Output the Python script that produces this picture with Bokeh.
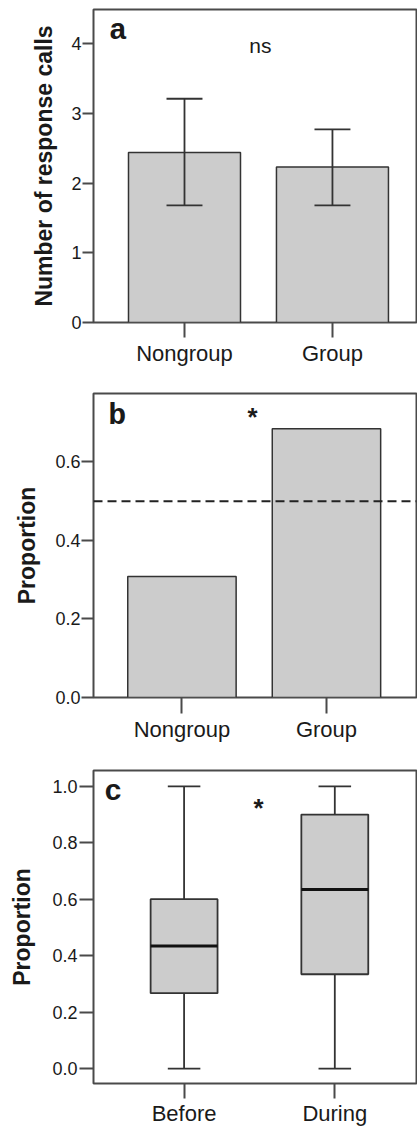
import numpy as np
from bokeh.plotting import figure
from bokeh.layouts import column
from bokeh.models import FixedTicker, PrintfTickFormatter, Label, Span, Range1d
from bokeh.embed import file_html
from bokeh.resources import INLINE

# ---- data ----
groups_ab = ["Nongroup", "Group"]
calls_mean = [2.44, 2.23]
calls_lo = [1.68, 1.68]
calls_hi = [3.21, 2.77]

prop_b = [0.308, 0.685]
chance_level = 0.5

groups_c = ["Before", "During"]
c_low = [0.0, 0.0]
c_q1 = [0.267, 0.334]
c_med = [0.434, 0.634]
c_q3 = [0.600, 0.900]
c_high = [1.0, 1.0]

ticks_a = [0, 1, 2, 3, 4]
ticks_b = [0.0, 0.2, 0.4, 0.6]
ticks_c = [0.0, 0.2, 0.4, 0.6, 0.8, 1.0]

SANS = "Liberation Sans"
MONO = "Liberation Mono"
FRAME = "#4a4a4a"
EDGE = "#333333"
FILL = "#cccccc"
W = 417


def base(height, xr, yr, bl, bt, bb):
    p = figure(width=W, height=height, x_range=Range1d(*xr), y_range=Range1d(*yr),
               output_backend="svg", toolbar_location=None,
               min_border_left=bl, min_border_right=1, min_border_top=bt,
               min_border_bottom=bb)
    p.xgrid.visible = False
    p.ygrid.visible = False
    p.outline_line_color = FRAME
    p.outline_line_width = 2
    p.background_fill_color = "white"
    p.border_fill_color = "white"
    for ax in (p.xaxis[0], p.yaxis[0]):
        ax.axis_line_color = None
        ax.minor_tick_line_color = None
        ax.major_tick_in = 0
        ax.major_tick_line_color = FRAME
        ax.major_tick_line_width = 2
        ax.major_label_text_font = SANS
        ax.major_label_text_color = "#1a1a1a"
    p.xaxis.major_label_text_font_size = "22px"
    p.yaxis.major_label_text_font_size = "18px"
    p.yaxis.axis_label_text_font = SANS
    p.yaxis.axis_label_text_font_style = "bold"
    p.yaxis.axis_label_text_font_size = "23px"
    p.yaxis.axis_label_text_color = "#1a1a1a"
    return p


def letter(p, txt, x, y, size="30px", align="left"):
    p.add_layout(Label(x=x, y=y, text=txt, text_font=MONO, text_font_style="bold",
                       text_font_size=size, text_color="#1a1a1a",
                       text_baseline="alphabetic", text_align=align))


# ---- panel a ----
xa = np.arange(1, len(groups_ab) + 1)
pa = base(375, (0.385, 2.568), (0, 4.49), 93, 9, 53)
pa.vbar(x=xa, top=calls_mean, bottom=0, width=0.757, fill_color=FILL,
        line_color=EDGE, line_width=1.5)
pa.segment(x0=xa, y0=calls_lo, x1=xa, y1=calls_hi, line_color=EDGE, line_width=1.8)
cw = 0.243 / 2
pa.segment(x0=xa - cw, y0=calls_lo, x1=xa + cw, y1=calls_lo, line_color=EDGE, line_width=1.8)
pa.segment(x0=xa - cw, y0=calls_hi, x1=xa + cw, y1=calls_hi, line_color=EDGE, line_width=1.8)
pa.xaxis.ticker = FixedTicker(ticks=list(xa))
pa.xaxis.major_label_overrides = {int(i): g for i, g in zip(xa, groups_ab)}
pa.xaxis.major_tick_out = 15
pa.xaxis.major_label_standoff = 3
pa.yaxis.ticker = FixedTicker(ticks=ticks_a)
pa.yaxis.major_tick_out = 11
pa.yaxis.major_label_standoff = 1
pa.yaxis.axis_label = "Number of response calls"
pa.yaxis.axis_label_standoff = 11
letter(pa, "a", 0.49, 4.185)
pa.add_layout(Label(x=1.513, y=3.97, text="ns", text_align="center", text_font=SANS,
                    text_font_size="21px", text_color="#1a1a1a",
                    text_baseline="alphabetic"))

# ---- panel b ----
xb = np.arange(1, len(groups_ab) + 1)
pb = base(370, (0.388, 2.623), (0, 0.7745), 92, 18, 48)
pb.vbar(x=xb, top=prop_b, bottom=0, width=0.75, fill_color=FILL,
        line_color=EDGE, line_width=1.5)
pb.add_layout(Span(location=chance_level, dimension="width", line_color="#222222",
                   line_width=2, line_dash="9 5"))
pb.xaxis.ticker = FixedTicker(ticks=list(xb))
pb.xaxis.major_label_overrides = {int(i): g for i, g in zip(xb, groups_ab)}
pb.xaxis.major_tick_out = 16
pb.xaxis.major_label_standoff = 3
pb.yaxis.ticker = FixedTicker(ticks=ticks_b)
pb.yaxis.formatter = PrintfTickFormatter(format="%.1f")
pb.yaxis.major_tick_out = 12
pb.yaxis.major_label_standoff = 1
pb.yaxis.axis_label = "Proportion"
pb.yaxis.axis_label_standoff = 12
letter(pb, "b", 0.49, 0.718)
letter(pb, "*", 1.488, 0.708, size="26px", align="center")

# ---- panel c ----
xc = np.arange(1, len(groups_c) + 1)
pc = base(383, (0.399, 2.542), (-0.053, 1.056), 88, 25, 43)
bw = 0.444
capw = 0.216 / 2
pc.segment(x0=xc, y0=c_q3, x1=xc, y1=c_high, line_color=EDGE, line_width=1.8)
pc.segment(x0=xc, y0=c_low, x1=xc, y1=c_q1, line_color=EDGE, line_width=1.8)
pc.segment(x0=xc - capw, y0=c_high, x1=xc + capw, y1=c_high, line_color=EDGE, line_width=1.8)
pc.segment(x0=xc - capw, y0=c_low, x1=xc + capw, y1=c_low, line_color=EDGE, line_width=1.8)
pc.vbar(x=xc, bottom=c_q1, top=c_q3, width=bw, fill_color=FILL, line_color=EDGE, line_width=1.8)
pc.segment(x0=xc - bw / 2, y0=c_med, x1=xc + bw / 2, y1=c_med, line_color="#111111", line_width=3)
pc.xaxis.ticker = FixedTicker(ticks=list(xc))
pc.xaxis.major_label_overrides = {int(i): g for i, g in zip(xc, groups_c)}
pc.xaxis.major_tick_out = 15
pc.xaxis.major_label_standoff = 2
pc.yaxis.ticker = FixedTicker(ticks=ticks_c)
pc.yaxis.formatter = PrintfTickFormatter(format="%.1f")
pc.yaxis.major_tick_out = 14
pc.yaxis.major_label_standoff = 2
pc.yaxis.axis_label = "Proportion"
pc.yaxis.axis_label_standoff = 14
letter(pc, "c", 0.47, 0.979)
letter(pc, "*", 1.494, 0.912, size="26px", align="center")

layout = column(pa, pb, pc)
open("out.html", "w").write(file_html(layout, INLINE))
